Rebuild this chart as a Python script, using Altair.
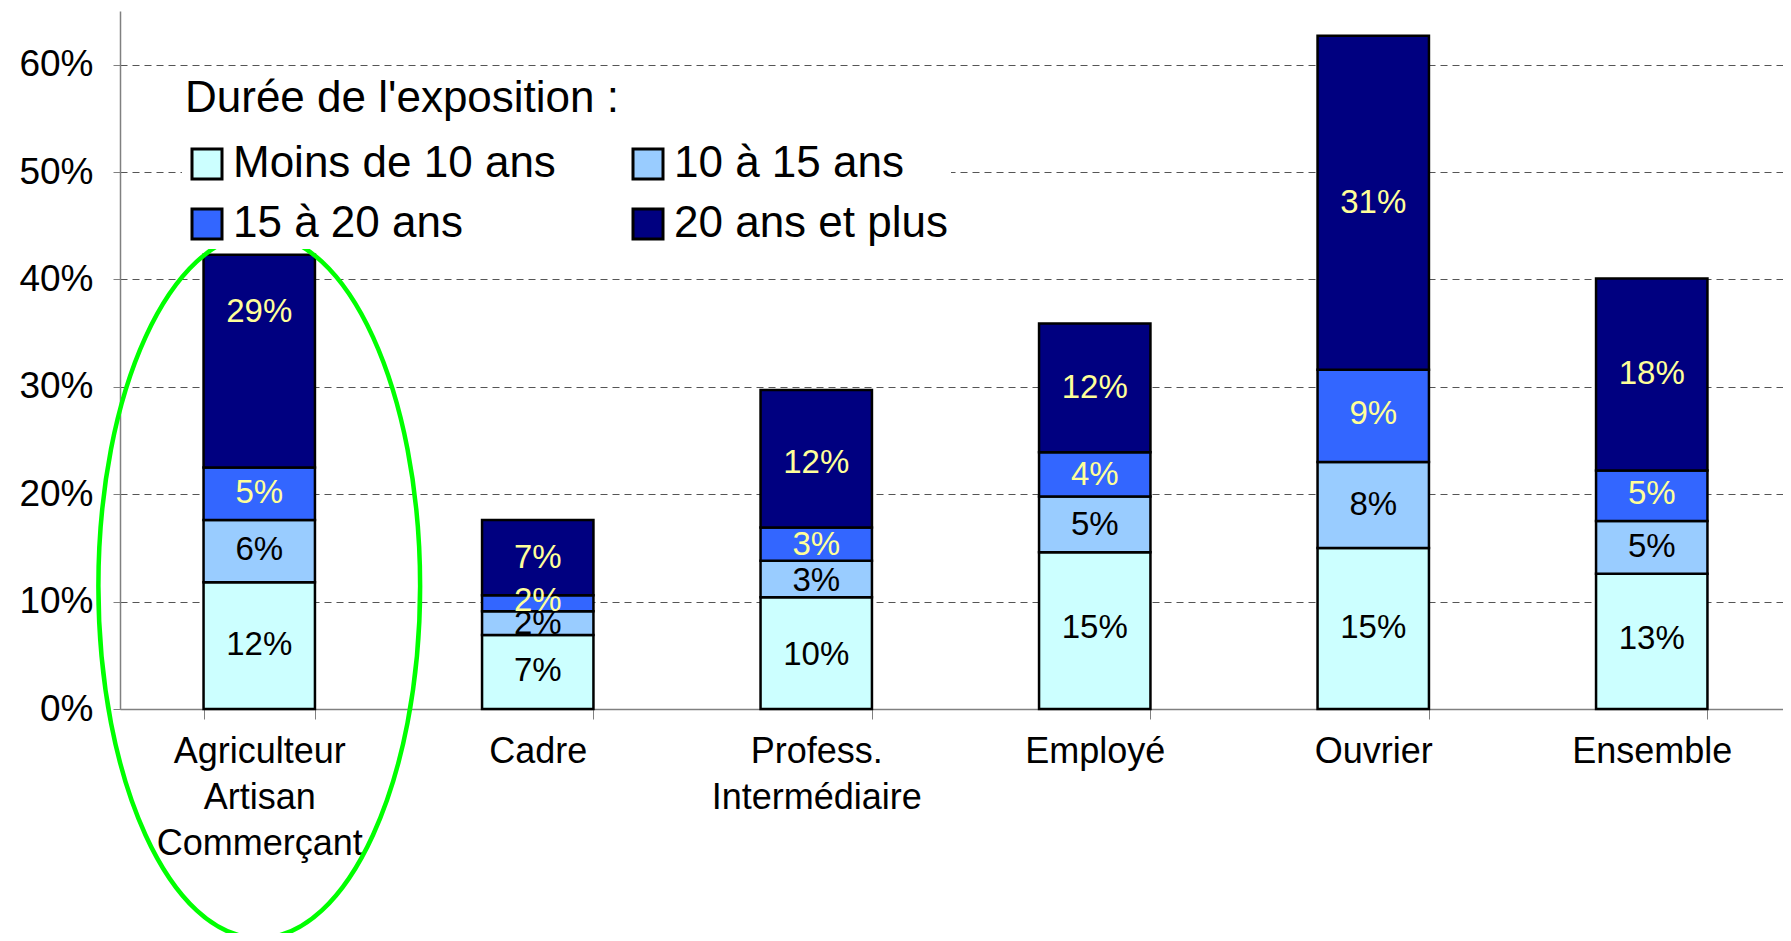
import altair as alt
import pandas as pd

categories = ["Agriculteur|Artisan|Commerçant", "Cadre", "Profess.|Intermédiaire",
              "Employé", "Ouvrier", "Ensemble"]
series = ["Moins de 10 ans", "10 à 15 ans", "15 à 20 ans", "20 ans et plus"]
colors = ["#CCFFFF", "#99CCFF", "#3366FF", "#000080"]

v_moins10 = [11.8, 6.9, 10.4, 14.6, 15.0, 12.6]
v_10_15 = [5.8, 2.2, 3.4, 5.2, 8.0, 4.9]
v_15_20 = [4.9, 1.5, 3.1, 4.1, 8.6, 4.7]
v_20plus = [19.8, 7.0, 12.8, 12.0, 31.1, 17.9]

l_moins10 = ["12%", "7%", "10%", "15%", "15%", "13%"]
l_10_15 = ["6%", "2%", "3%", "5%", "8%", "5%"]
l_15_20 = ["5%", "2%", "3%", "4%", "9%", "5%"]
l_20plus = ["29%", "7%", "12%", "12%", "31%", "18%"]

y_ticks = [0, 10, 20, 30, 40, 50, 60]
highlight_cat = categories[0]
highlight_y = 11.45

rows = []
for si, (vals, labs) in enumerate(zip([v_moins10, v_10_15, v_15_20, v_20plus],
                                      [l_moins10, l_10_15, l_15_20, l_20plus])):
    for ci, c in enumerate(categories):
        rows.append({"cat": c, "serie": series[si], "ord": si, "value": vals[ci], "lab": labs[ci]})
df = pd.DataFrame(rows)

FONT = "Liberation Sans"

base = alt.Chart(df).transform_stack(
    stack="value", groupby=["cat"], as_=["y0", "y1"], sort=[alt.SortField("ord", order="ascending")]
).transform_calculate(mid="datum.y0 + parseFloat(datum.lab) / 2")

xenc = alt.X("cat:N", sort=categories,
             scale=alt.Scale(paddingInner=0.6, paddingOuter=0.3),
             axis=alt.Axis(labelExpr="split(datum.label, '|')", labelFontSize=36,
                           labelFont=FONT, labelColor="black", labelLineHeight=46,
                           labelLimit=600, labelAngle=0, tickBand="extent", tickSize=10,
                           tickColor="#808080", domainColor="#808080", domainWidth=1.5,
                           labelPadding=15, title=None, grid=False))

bars = base.mark_bar(stroke="black", strokeWidth=2.5).encode(
    x=xenc,
    y=alt.Y("y0:Q", scale=alt.Scale(domain=[0, 65], nice=False),
            axis=alt.Axis(values=y_ticks, labelExpr="datum.value + '%'", grid=True,
                          gridDash=[7, 5], gridColor="#555555", gridWidth=1.2,
                          domainColor="#808080", domainWidth=1.5, tickColor="#808080",
                          tickSize=7, labelFontSize=37, labelFont=FONT, labelColor="black",
                          labelPadding=20, title=None)),
    y2="y1:Q",
    color=alt.Color("serie:N", sort=series,
                    scale=alt.Scale(domain=series, range=colors),
                    legend=alt.Legend(orient="none", legendX=62, legendY=63, columns=2,
                                      direction="horizontal",
                                      columnPadding=70, rowPadding=16, symbolType="square",
                                      symbolSize=900, symbolStrokeColor="black",
                                      symbolStrokeWidth=3, symbolOpacity=1,
                                      labelFontSize=44, labelFont=FONT, labelColor="black",
                                      labelOffset=4, labelLimit=0,
                                      title="Durée de l'exposition :", titleFontSize=44,
                                      titleFont=FONT, titleFontWeight="normal",
                                      titleColor="black", titlePadding=21, titleLimit=0,
                                      fillColor="white", padding=3)),
    order=alt.Order("ord:Q"),
)

texts = base.mark_text(fontSize=33, font=FONT, baseline="middle").encode(
    x=alt.X("cat:N", sort=categories),
    y=alt.Y("mid:Q"),
    text="lab:N",
    color=alt.condition("datum.ord >= 2", alt.value("#FFFF99"), alt.value("black")),
)

ell_df = pd.DataFrame({"cat": [highlight_cat], "yc": [highlight_y]})
ellipse_path = "M -0.457 0 A 0.457 1 0 1 0 0.457 0 A 0.457 1 0 1 0 -0.457 0 Z"
ellipse = alt.Chart(ell_df).mark_point(shape=ellipse_path, size=495616, filled=False,
                                        color="#00FF00", strokeWidth=4.5, opacity=1).encode(
    x=alt.X("cat:N", sort=categories),
    y=alt.Y("yc:Q"),
)

chart = alt.layer(bars, texts, ellipse).properties(
    width=1671, height=698,
    autosize=alt.AutoSizeParams(type="none"),
    padding={"left": 112, "top": 3, "right": -8, "bottom": 224},
).configure_view(stroke=None)

chart.save("out.html", embed_options={"renderer": "svg", "actions": False})
